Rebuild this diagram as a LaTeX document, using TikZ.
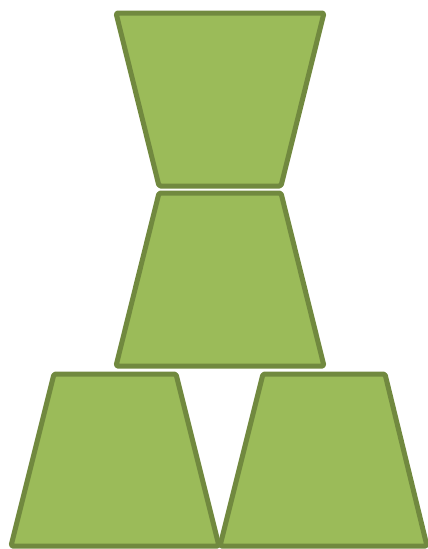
\documentclass[tikz,border=0pt]{standalone}
\usepackage{tikz}
\usepackage{xcolor}

\definecolor{leafgreen}{HTML}{9BBB59}
\definecolor{leafdark}{HTML}{71893F}

\begin{document}
\begin{tikzpicture}[
    x=1pt, y=-1pt,
    piece/.style={draw=leafdark, fill=leafgreen, line width=5pt, line join=round, rounded corners=1.5pt}
]
\useasboundingbox (0,0) rectangle (428,549);

% Upper pair
\draw[piece] (116,13) -- (324,13) -- (281,186) -- (159,186) -- cycle;
\draw[piece] (159,193) -- (281,193) -- (324,366) -- (116,366) -- cycle;

% Lower pair
\draw[piece] (54,374) -- (176,374) -- (219,546) -- (11,546) -- cycle;
\draw[piece] (263,374) -- (385,374) -- (427,546) -- (220,546) -- cycle;

\end{tikzpicture}
\end{document}
